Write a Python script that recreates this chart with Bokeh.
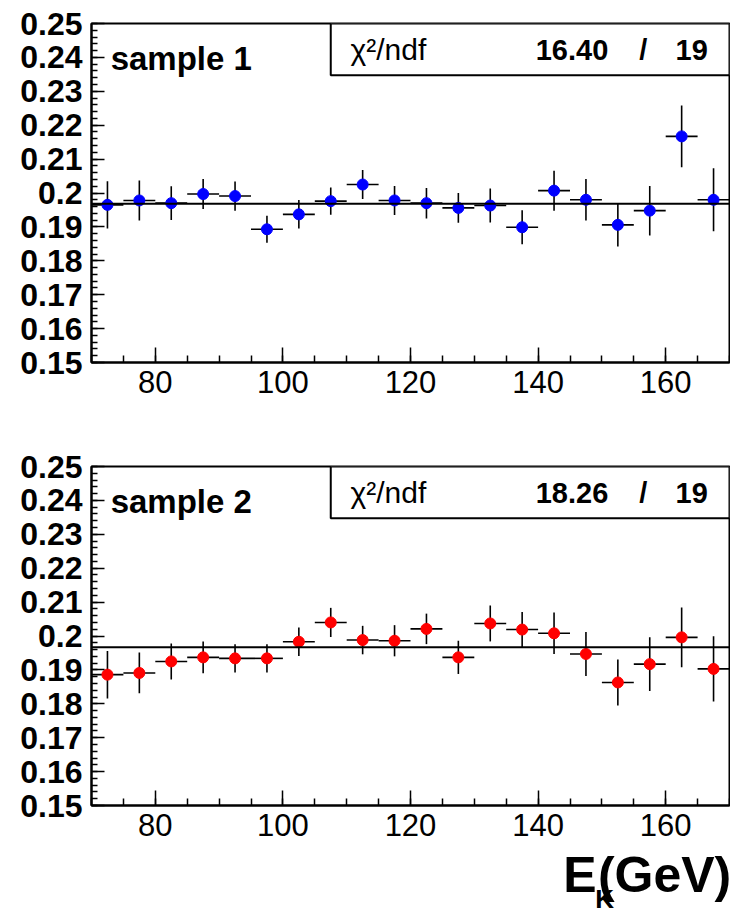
from bokeh.plotting import figure
from bokeh.layouts import column
from bokeh.models import FixedTicker, Label, BoxAnnotation, Span, Range1d, ColumnDataSource
from bokeh.core.properties import value
from bokeh.embed import file_html
from bokeh.resources import INLINE

# ---- data ----
x_centers = [72.5, 77.5, 82.5, 87.5, 92.5, 97.5, 102.5, 107.5, 112.5, 117.5,
             122.5, 127.5, 132.5, 137.5, 142.5, 147.5, 152.5, 157.5, 162.5, 167.5]
bin_width = 5.0

s1_vals = [0.1965, 0.1978, 0.1970, 0.1997, 0.1991, 0.1893, 0.1937, 0.1976, 0.2025, 0.1978,
           0.1970, 0.1956, 0.1963, 0.1899, 0.2007, 0.1980, 0.1906, 0.1948, 0.2167, 0.1980]
s1_errs = [0.0070, 0.0059, 0.0050, 0.0044, 0.0043, 0.0040, 0.0042, 0.0040, 0.0043, 0.0043,
           0.0045, 0.0044, 0.0050, 0.0050, 0.0059, 0.0061, 0.0064, 0.0073, 0.0091, 0.0093]
s2_vals = [0.1886, 0.1891, 0.1925, 0.1937, 0.1934, 0.1934, 0.1983, 0.2040, 0.1988, 0.1986,
           0.2021, 0.1937, 0.2037, 0.2019, 0.2008, 0.1947, 0.1863, 0.1917, 0.1996, 0.1903]
s2_errs = [0.0070, 0.0060, 0.0053, 0.0047, 0.0042, 0.0042, 0.0042, 0.0043, 0.0042, 0.0046,
           0.0045, 0.0049, 0.0053, 0.0052, 0.0061, 0.0065, 0.0068, 0.0079, 0.0088, 0.0096]
fit_vals = [0.1968, 0.1967]
sample_names = ["sample 1", "sample 2"]
chi2_vals = ["16.40", "18.26"]
ndf_vals = ["19", "19"]
colors = ["#0000ff", "#ff0000"]

x_ticks = [80, 100, 120, 140, 160]
x_tick_labels = ["80", "100", "120", "140", "160"]
y_ticks = [0.15, 0.16, 0.17, 0.18, 0.19, 0.2, 0.21, 0.22, 0.23, 0.24, 0.25]
y_tick_labels = ["0.15", "0.16", "0.17", "0.18", "0.19", "0.2", "0.21", "0.22", "0.23", "0.24", "0.25"]
x_title_parts = ["E", "K", "(GeV)"]

FONT = "Liberation Sans"
W = 730


def make_panel(vals, errs, fit, name, chi2, ndf, color, height, top_border, bottom_border):
    p = figure(width=W, height=height, output_backend="svg", toolbar_location=None,
               title=None,
               x_range=Range1d(70, 170), y_range=Range1d(0.15, 0.25),
               min_border_left=91, min_border_right=1,
               min_border_top=top_border, min_border_bottom=bottom_border)
    p.grid.visible = False
    p.outline_line_color = "black"
    p.outline_line_width = 2
    p.outline_line_alpha = 1.0
    p.background_fill_color = "white"
    p.border_fill_color = "white"

    # axes
    xminor = [70 + 5 * i for i in range(21)]
    p.xaxis.ticker = FixedTicker(ticks=x_ticks, minor_ticks=xminor)
    p.xaxis.major_label_overrides = {t: l for t, l in zip(x_ticks, x_tick_labels)}
    yminor = [round(0.15 + 0.002 * i, 4) for i in range(51)]
    p.yaxis.ticker = FixedTicker(ticks=y_ticks, minor_ticks=yminor)
    p.yaxis.major_label_overrides = {t: l for t, l in zip(y_ticks, y_tick_labels)}
    for ax in (p.xaxis, p.yaxis):
        ax.axis_line_width = 2
        ax.major_tick_out = 0
        ax.minor_tick_out = 0
        ax.major_tick_line_width = 1.5
        ax.minor_tick_line_width = 1.5
        ax.major_label_text_font = FONT
        ax.major_label_text_color = "black"
    p.xaxis.major_tick_in = 15
    p.xaxis.minor_tick_in = 7
    p.yaxis.major_tick_in = 13
    p.yaxis.minor_tick_in = 6
    p.xaxis.major_label_text_font_size = "31px"
    p.xaxis.major_label_standoff = 8
    p.yaxis.major_label_text_font_size = "32px"
    p.yaxis.major_label_text_font_style = "bold"
    p.yaxis.major_label_standoff = 9

    # fit line
    p.add_layout(Span(location=fit, dimension="width", line_color="black", line_width=2))

    src = ColumnDataSource(dict(
        x=x_centers, y=vals,
        ylo=[v - e for v, e in zip(vals, errs)],
        yhi=[v + e for v, e in zip(vals, errs)],
        xlo=[x - bin_width / 2 for x in x_centers],
        xhi=[x + bin_width / 2 for x in x_centers],
    ))
    p.segment(x0="x", y0="ylo", x1="x", y1="yhi", source=src, line_color="black", line_width=1.6)
    p.segment(x0="xlo", y0="y", x1="xhi", y1="y", source=src, line_color="black", line_width=1.6)
    p.scatter(x="x", y="y", source=src, size=11, marker="circle",
              fill_color=color, line_color=color)

    # stats box
    p.add_layout(BoxAnnotation(left=107.5, right=170, bottom=0.2347, top=0.25,
                               fill_color="white", fill_alpha=1.0,
                               line_color="black", line_alpha=1.0, line_width=2))
    ty = 0.2422
    p.add_layout(Label(x=110.6, y=ty, text="\u03c7\u00b2/ndf", text_font=FONT,
                       text_font_size="30px", text_color="black", text_baseline="middle"))
    p.add_layout(Label(x=151.0, y=ty, text=chi2, text_font=FONT, text_font_style="bold",
                       text_font_size="29px", text_align="right", text_baseline="middle",
                       text_color="black"))
    p.add_layout(Label(x=156.5, y=ty, text="/", text_font=FONT, text_font_style="bold",
                       text_font_size="29px", text_align="center", text_baseline="middle",
                       text_color="black"))
    p.add_layout(Label(x=166.6, y=ty, text=ndf, text_font=FONT, text_font_style="bold",
                       text_font_size="29px", text_align="right", text_baseline="middle",
                       text_color="black"))
    # sample label
    p.add_layout(Label(x=73.0, y=0.2397, text=name, text_font=FONT, text_font_style="bold",
                       text_font_size="33px", text_baseline="middle", text_color="black"))
    return p


p1 = make_panel(s1_vals, s1_errs, fit_vals[0], sample_names[0], chi2_vals[0], ndf_vals[0],
                colors[0], 440, 23, 78)
p2 = make_panel(s2_vals, s2_errs, fit_vals[1], sample_names[1], chi2_vals[1], ndf_vals[1],
                colors[1], 405, 26, 40)

# x axis title strip: E_K(GeV), right aligned under the bottom panel
TH = 69
p3 = figure(width=W, height=TH, output_backend="svg", toolbar_location=None,
            title=None, x_axis_location=None, y_axis_location=None,
            x_range=Range1d(0, W), y_range=Range1d(0, TH),
            min_border_left=0, min_border_right=0, min_border_top=0, min_border_bottom=0)
p3.grid.visible = False
p3.outline_line_color = None
p3.text(x=[578], y=[39.5], text=[x_title_parts[0]], text_font=value(FONT),
        text_font_style="bold", text_font_size="50px", text_align="right",
        text_baseline="middle", text_color="black")
p3.text(x=[598], y=[16], text=[x_title_parts[1]], text_font=value(FONT),
        text_font_style="bold", text_font_size="26px", text_align="right",
        text_baseline="middle", text_color="black")
p3.text(x=[732], y=[39.5], text=[x_title_parts[2]], text_font=value(FONT),
        text_font_style="bold", text_font_size="50px", text_align="right",
        text_baseline="middle", text_color="black")

layout = column(p1, p2, p3, spacing=0)
open("out.html", "w").write(file_html(layout, INLINE))
